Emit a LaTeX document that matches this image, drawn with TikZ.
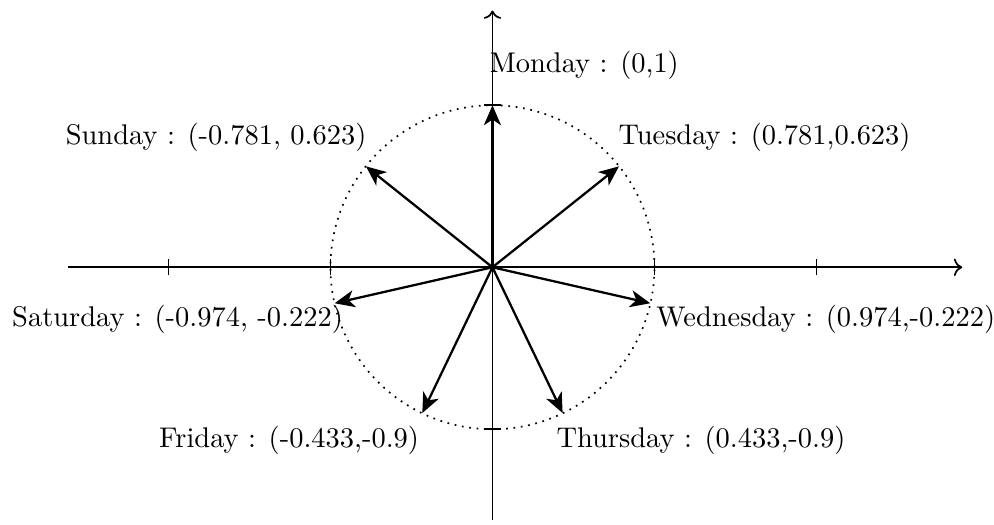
\documentclass[tikz,border=0pt]{standalone}
\usetikzlibrary{arrows.meta}
\begin{document}
\begin{tikzpicture}[x=2cm,y=2cm,
  axis/.style={semithick,->},
  vec/.style={thick,-{Stealth[length=7pt,width=6pt,inset=2pt]}},
  tick/.style={semithick},
  lbl/.style={inner sep=0pt}]
\useasboundingbox (-3.04,-1.59) rectangle (3.096,1.65);
\coordinate (O) at (0,0);
\coordinate (xl) at (-2.62,0);
\coordinate (xr) at (2.9,0);
\coordinate (yb) at (0,-1.56);
\coordinate (yt) at (0,1.585);
\draw[axis] (xl) -- (xr);
\draw[axis] (yb) -- (yt);
\foreach \x in {-2,-1,1,2} \draw[tick] (\x,-0.05) -- (\x,0.05);
\foreach \y in {-1,1} \draw[tick] (-0.05,\y) -- (0.05,\y);
\draw[dotted,semithick] (O) circle (1);
\coordinate (mon) at (0,1);
\coordinate (tue) at (0.781,0.623);
\coordinate (wed) at (0.974,-0.222);
\coordinate (thu) at (0.433,-0.9);
\coordinate (fri) at (-0.433,-0.9);
\coordinate (sat) at (-0.974,-0.222);
\coordinate (sun) at (-0.781,0.623);
\foreach \d in {mon,tue,wed,thu,fri,sat,sun} \draw[vec] (O) -- (\d);
\node[lbl,anchor=base west] (lmon) at (-0.02,1.2) {Monday : (0,1)};
\node[lbl,anchor=base west] (ltue) at (0.775,0.755) {Tuesday : (0.781,0.623)};
\node[lbl,anchor=base east] (lsun) at (-0.775,0.755) {Sunday : (-0.781, 0.623)};
\node[lbl,anchor=base west] (lwed) at (1.009,-0.368) {Wednesday : (0.974,-0.222)};
\node[lbl,anchor=base east] (lsat) at (-0.92,-0.368) {Saturday : (-0.974, -0.222)};
\node[lbl,anchor=base west] (lthu) at (0.392,-1.115) {Thursday : (0.433,-0.9)};
\node[lbl,anchor=base east] (lfri) at (-0.45,-1.115) {Friday : (-0.433,-0.9)};
\end{tikzpicture}
\end{document}
